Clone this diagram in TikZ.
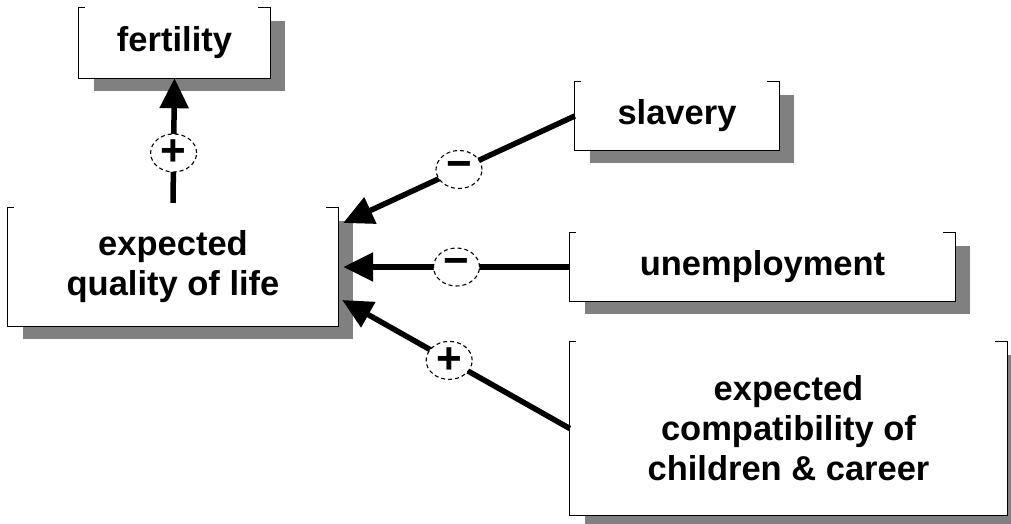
\documentclass[tikz,border=0pt]{standalone}
\usepackage{fontspec}
\setmainfont{Liberation Sans}
\usepackage{tikz}
\usetikzlibrary{arrows.meta, positioning, shapes.geometric, shadows}

\definecolor{shadowgray}{RGB}{128,128,128}

\begin{document}
\begin{tikzpicture}[x=1pt, y=-1pt,
    factor/.style={fill=white, inner sep=0pt, align=center,
        font=\bfseries\fontsize{34.5}{40}\selectfont,
        general shadow={fill=shadowgray, shadow xshift=15pt, shadow yshift=-13pt}},
    frame/.style={line width=1.2pt},
    link/.style={line width=5.5pt, -{Triangle[length=30pt, width=28pt]}},
    sign/.style={draw, ellipse, fill=white, line width=1.1pt, dash pattern=on 4pt off 3pt,
        minimum width=46pt, minimum height=38pt, inner sep=0pt, font=\bfseries\fontsize{44}{44}\selectfont}]
    \useasboundingbox[fill=white] (0,0) rectangle (1011,524);

    % Factors
    \node[factor, minimum width=191pt, minimum height=70pt] (fert) at (174.5,43) {fertility};
    \node[factor, minimum width=330pt, minimum height=118pt] (qual) at (173,267) {expected\\quality of life};
    \node[factor, minimum width=204pt, minimum height=68pt] (slav) at (677,116) {slavery};
    \node[factor, minimum width=385pt, minimum height=68pt] (unemp) at (762.5,267) {unemployment};
    \node[factor, minimum width=437pt, minimum height=173pt] (compat) at (788.5,428.5) {expected\\compatibility of\\children \& career};

    % Box outlines (open at the top)
    \foreach \n in {fert, qual, slav, unemp, compat}
        \draw[frame] ([xshift=6pt]\n.north west) -- (\n.north west) |- (\n.south east) -- (\n.north east) -- ([xshift=-12pt]\n.north east);

    % Influences
    \draw[link] ([yshift=5pt]qual.north) -- (fert.south) node[sign, pos=0.4] {+};
    \draw[link] (slav.west) -- ([xshift=5pt, yshift=44pt]qual.east) node[sign, pos=0.5] {−};
    \draw[link] (unemp.west) -- ([xshift=5pt]qual.east) node[sign, pos=0.5] {−};
    \draw[link] (compat.west) -- ([xshift=4pt, yshift=-33pt]qual.east) node[sign, pos=0.53] {+};
\end{tikzpicture}
\end{document}
